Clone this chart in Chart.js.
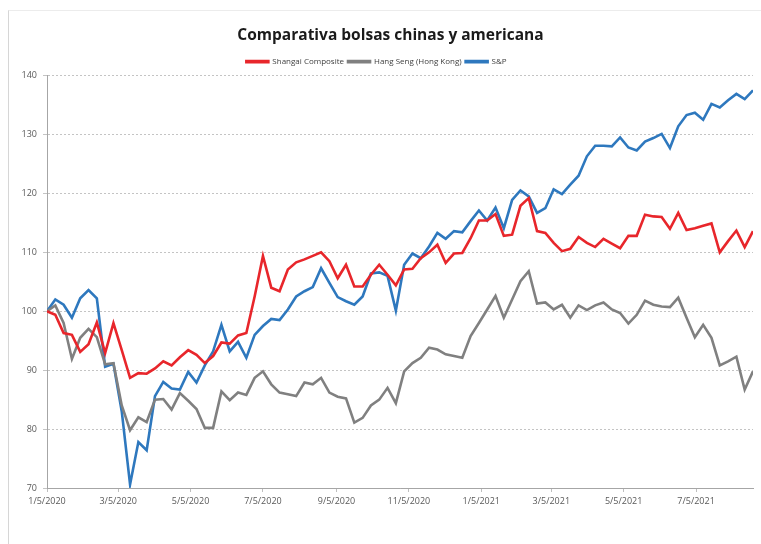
<!DOCTYPE html>
<html><head><meta charset="utf-8">
<script src="https://cdn.jsdelivr.net/npm/chart.js@4/dist/chart.umd.min.js"></script>
<style>
html,body{margin:0;padding:0;background:#fff;overflow:hidden;}
#wrap{position:absolute;left:0;top:0;width:761px;height:544px;}
#frame{position:absolute;left:8px;top:10px;width:760px;height:540px;border-left:1px solid #d6d6d6;border-top:1px solid #ececec;}
canvas{position:absolute;left:0;top:0;}
</style></head><body>
<div id="wrap"><div id="frame"></div><canvas id="c" width="761" height="544"></canvas></div>
<script>
const chartTitle = "Comparativa bolsas chinas y americana";
const seriesNames = ["Shangai Composite", "Hang Seng (Hong Kong)", "S&P"];
const firstDate = "1/5/2020";
const lastDate = "8/22/2021";
const tickLabels = ["1/5/2020","3/5/2020","5/5/2020","7/5/2020","9/5/2020","11/5/2020","1/5/2021","3/5/2021","5/5/2021","7/5/2021"];
const yTicks = [70, 80, 90, 100, 110, 120, 130, 140];

const shanghai = [100,99.4,96.3,96.0,93.1,94.4,98.1,92.9,98.0,93.4,
88.7,89.5,89.4,90.3,91.5,90.8,92.2,93.4,92.6,91.2,
92.4,94.7,94.5,95.9,96.3,102.5,109.4,104.0,103.4,107.1,
108.3,108.8,109.4,110.0,108.5,105.6,107.9,104.2,104.2,106.2,
107.9,106.2,104.4,107.1,107.2,109.0,110.0,111.3,108.2,109.8,
109.9,112.4,115.4,115.4,116.5,112.8,113.0,117.9,119.2,113.6,
113.3,111.6,110.2,110.6,112.6,111.6,110.9,112.3,111.5,110.7,
112.8,112.8,116.4,116.1,116.0,114.0,116.7,113.8,114.1,114.5,
114.9,110.0,111.9,113.7,110.9,113.6];

const hangSeng = [100,101.0,98.0,91.9,95.5,97.0,95.6,91.0,91.2,84.0,
79.8,82.0,81.2,85.0,85.1,83.3,86.1,84.8,83.4,80.2,
80.2,86.4,84.9,86.2,85.8,88.7,89.8,87.6,86.2,85.9,
85.6,87.9,87.6,88.7,86.2,85.5,85.2,81.1,81.9,84.0,
85.0,87.0,84.4,89.8,91.2,92.1,93.8,93.5,92.7,92.4,
92.1,95.8,98.0,100.3,102.6,98.9,102.0,105.1,106.8,101.3,
101.5,100.3,101.1,98.9,101.0,100.2,101.0,101.5,100.3,99.7,
97.9,99.4,101.8,101.1,100.8,100.7,102.3,98.9,95.6,97.7,
95.5,90.8,91.5,92.3,86.7,89.8];

const sp = [100,102.0,101.1,98.9,102.2,103.6,102.2,90.6,91.1,83.0,
70.6,77.8,76.4,85.6,88.0,86.9,86.7,89.7,87.9,90.8,
93.2,97.7,93.2,94.8,92.1,96.0,97.5,98.7,98.5,100.3,
102.5,103.4,104.1,107.3,104.8,102.4,101.7,101.1,102.5,106.4,
106.6,106.0,100.1,107.9,109.8,109.0,111.0,113.3,112.3,113.6,
113.4,115.3,117.1,115.4,117.6,114.1,118.9,120.5,119.5,116.7,
117.5,120.7,119.9,121.5,123.0,126.3,128.1,128.1,128.0,129.5,
127.8,127.3,128.8,129.4,130.1,127.7,131.4,133.3,133.7,132.5,
135.2,134.6,135.8,136.9,136.0,137.5];

const seriesColors = ["#E8262B", "#808080", "#2E78BE"];
const titleFont = { family: "'Open Sans', sans-serif", size: 15.5, weight: 'bold' };

function dayOf(mdy) {
  const p = mdy.split('/').map(Number);
  const b = firstDate.split('/').map(Number);
  return Math.round((Date.UTC(p[2], p[0]-1, p[1]) - Date.UTC(b[2], b[0]-1, b[1])) / 86400000);
}
const tickDays = tickLabels.map(dayOf);
const lastDay = dayOf(lastDate);
function weekly(vals) { return vals.map((v, i) => ({ x: i * 7, y: v })); }

const allSeries = [shanghai, hangSeng, sp];
const datasets = allSeries.map((vals, i) => ({
  label: seriesNames[i],
  data: weekly(vals),
  borderColor: seriesColors[i],
  backgroundColor: seriesColors[i],
  borderWidth: 2.6,
  pointRadius: 0,
  tension: 0,
  fill: false
}));

// Draws the title text slightly right of the canvas centre, as in the original
const shiftedTitle = {
  id: 'shiftedTitle',
  afterDraw(chart) {
    const tb = chart.titleBlock;
    if (!tb) return;
    const ctx = chart.ctx;
    ctx.save();
    ctx.font = `${titleFont.weight} ${titleFont.size}px ${titleFont.family}`;
    ctx.fillStyle = '#1a1a1a';
    ctx.textAlign = 'center';
    ctx.textBaseline = 'middle';
    const cy = tb.top + 26 + (tb.bottom - tb.top - 26 - 9) / 2;
    ctx.fillText(chartTitle, chart.width / 2 + 10, cy);
    ctx.restore();
  }
};

new Chart(document.getElementById('c'), {
  type: 'line',
  data: { datasets },
  plugins: [shiftedTitle],
  options: {
    responsive: false,
    animation: false,
    devicePixelRatio: 1,
    layout: { padding: { left: 0, right: 8, top: 0, bottom: 0 } },
    plugins: {
      title: {
        display: true, text: chartTitle, color: 'rgba(0,0,0,0)',
        font: titleFont,
        padding: { top: 26, bottom: 9 }
      },
      legend: {
        display: true,
        labels: {
          boxWidth: 22, boxHeight: 1, padding: 4, color: '#404040',
          font: { family: "'Open Sans', sans-serif", size: 8 }
        }
      },
      tooltip: { enabled: false }
    },
    scales: {
      x: {
        type: 'linear', min: 0, max: lastDay,
        afterBuildTicks: (ax) => { ax.ticks = tickDays.map(v => ({ value: v })); },
        afterFit: (s) => { s.height = 56; },
        ticks: {
          autoSkip: false, maxRotation: 0, color: '#595959', padding: 4,
          font: { family: "'Open Sans', sans-serif", size: 9 },
          callback: (v) => { const i = tickDays.indexOf(v); return i >= 0 ? tickLabels[i] : ''; }
        },
        grid: { display: true, drawOnChartArea: false, tickLength: 4, color: '#bfbfbf' },
        border: { color: '#a6a6a6', width: 1 }
      },
      y: {
        min: yTicks[0], max: yTicks[yTicks.length - 1],
        afterBuildTicks: (ax) => { ax.ticks = yTicks.map(v => ({ value: v })); },
        afterFit: (s) => { s.width = 47; },
        ticks: {
          color: '#595959', padding: 6,
          font: { family: "'Open Sans', sans-serif", size: 9 }
        },
        grid: { color: '#c4c4c4', tickLength: 4, lineWidth: 1 },
        border: { color: '#a6a6a6', width: 1, dash: [2, 2] }
      }
    }
  }
});
</script>
</body></html>
